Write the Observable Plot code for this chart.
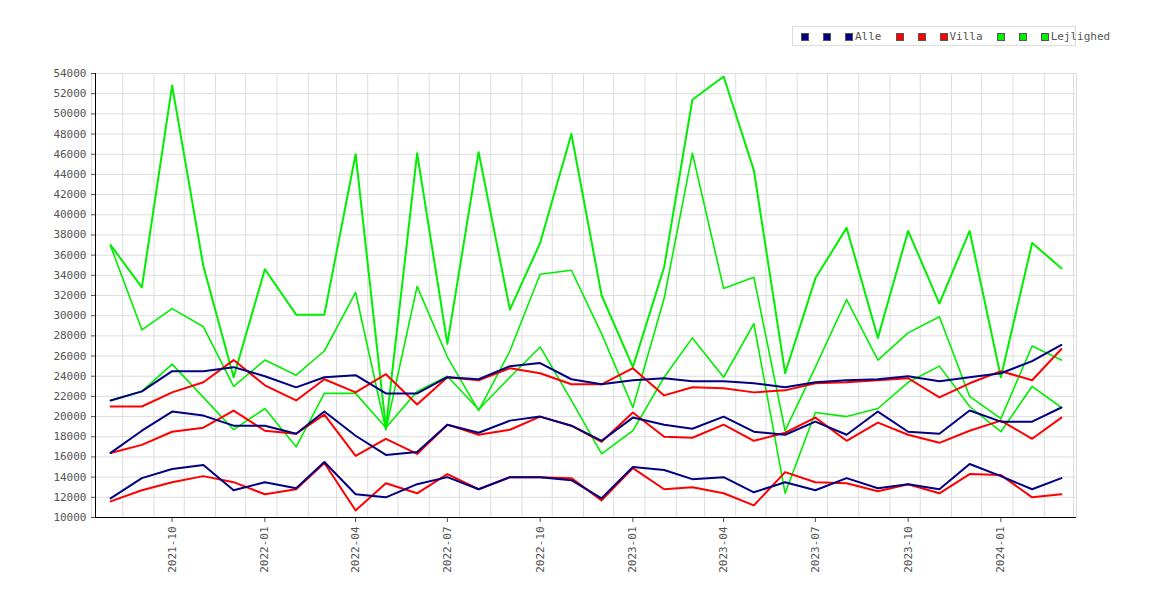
<!DOCTYPE html>
<html><head><meta charset="utf-8">
<script src="https://cdn.jsdelivr.net/npm/d3@7"></script>
<script src="https://cdn.jsdelivr.net/npm/@observablehq/plot@0.6"></script>
<style>
body{margin:0;background:#fff;font-family:"DejaVu Sans Mono",monospace;}
#wrap{position:relative;width:1170px;height:600px;}
#legend{position:absolute;left:792px;top:26px;width:284px;height:20px;border:1px solid #ddd;font-size:11px;color:#555;white-space:nowrap;line-height:20px;box-sizing:border-box;padding-left:8px;}
#legend span.sq{display:inline-block;box-sizing:border-box;width:8px;height:8px;border:1px solid #555;margin-right:14px;vertical-align:-1px;}
#legend span.lb{display:inline-block;margin-left:-12px;margin-right:14px;}
</style></head><body>
<div id="wrap"><div id="legend"></div><div id="chart"></div></div>
<script>
const months = ["2021-08","2021-09","2021-10","2021-11","2021-12","2022-01","2022-02","2022-03","2022-04","2022-05","2022-06","2022-07","2022-08","2022-09","2022-10","2022-11","2022-12","2023-01","2023-02","2023-03","2023-04","2023-05","2023-06","2023-07","2023-08","2023-09","2023-10","2023-11","2023-12","2024-01","2024-02","2024-03"];
const alleHigh = [21600,22500,24500,24500,24900,24000,22900,23900,24100,22300,22300,23900,23700,25000,25300,23700,23200,23600,23800,23500,23500,23300,22900,23400,23600,23700,24000,23500,23900,24300,25500,27100];
const alleMid  = [16400,18600,20500,20100,19100,19100,18300,20500,18100,16200,16500,19200,18400,19600,20000,19100,17600,19900,19200,18800,20000,18500,18200,19500,18200,20500,18500,18300,20600,19500,19500,20900];
const alleLow  = [11900,13900,14800,15200,12700,13500,12900,15500,12300,12000,13300,14000,12800,14000,14000,13700,11900,15000,14700,13800,14000,12500,13500,12700,13900,12900,13300,12800,15300,14100,12800,13900];
const villaHigh = [21000,21000,22400,23400,25600,23100,21600,23700,22400,24200,21200,23900,23600,24800,24300,23200,23200,24800,22100,22900,22800,22400,22600,23300,23400,23600,23800,21900,23300,24500,23600,26700];
const villaMid  = [16400,17200,18500,18900,20600,18600,18300,20200,16100,17800,16300,19200,18200,18700,20000,19100,17500,20400,18000,17900,19200,17600,18400,19900,17600,19400,18200,17400,18600,19600,17800,19900];
const villaLow  = [11600,12700,13500,14100,13500,12300,12800,15400,10700,13400,12400,14300,12800,14000,14000,13900,11700,14900,12800,13000,12400,11200,14500,13500,13400,12600,13300,12400,14300,14200,12000,12300];
const lejHigh = [37000,32800,52800,34900,23900,34600,30100,30100,46000,18900,46100,27200,46200,30600,37200,48000,32000,24900,34800,51400,53700,44400,24300,33700,38700,27800,38400,31200,38400,23900,37200,34700];
const lejMid  = [36900,28600,30700,28900,23000,25600,24100,26500,32300,18700,32900,25900,20600,26500,34100,34500,28200,20900,31700,46100,32700,33800,18600,24900,31600,25600,28300,29900,22000,19800,27000,25600];
const lejLow  = [21600,22500,25200,21900,18700,20800,17000,22300,22300,18900,22500,24000,20700,23900,26900,21600,16300,18600,23900,27800,23900,29200,12400,20400,20000,20800,23400,25000,21000,18500,23000,20900];

const series = [
  {name:"Lejlighed", color:"#00ee00", vals:[lejHigh,lejMid,lejLow]},
  {name:"Villa", color:"#ff0000", vals:[villaHigh,villaMid,villaLow]},
  {name:"Alle", color:"#000080", vals:[alleHigh,alleMid,alleLow]}
];
const parse = d3.utcParse("%Y-%m");
const rows = [];
series.forEach(s => s.vals.forEach((arr,k) => arr.forEach((v,i) => rows.push({date:parse(months[i]), value:v, key:s.name+k, color:s.color, w: s.name==="Lejlighed" && k>0 ? 1.6 : 2}))));

const grid = d3.utcMonths(new Date(Date.UTC(2021,6,1)), new Date(Date.UTC(2024,3,1))).map(d => d3.utcDay.offset(d,12));
const qticks = months.filter(m => /-(01|04|07|10)$/.test(m)).map(parse);

const plot = Plot.plot({
  width:1170, height:600,
  marginLeft:95, marginRight:94, marginTop:73, marginBottom:83,
  style:{fontFamily:"DejaVu Sans Mono, monospace", fontSize:"11px", color:"#555", background:"#fff"},
  x:{type:"utc", domain:[new Date(Date.UTC(2021,6,17)), new Date(Date.UTC(2024,2,16))], label:null},
  y:{domain:[10000,54000], label:null},
  marks:[
    Plot.ruleY(d3.range(10000,54001,2000), {stroke:"#ddd"}),
    Plot.ruleX(grid, {stroke:"#ddd"}),
    Plot.ruleX([new Date(Date.UTC(2024,2,16))], {stroke:"#ddd"}),
    Plot.line(rows, {x:"date", y:"value", z:"key", stroke:"color", strokeWidth:"w"}),
    Plot.axisX({ticks:qticks, tickFormat:d3.utcFormat("%Y-%m"), tickRotate:-90, tickSize:5, fill:"#555"}),
    Plot.axisY({ticks:d3.range(10000,54001,2000), tickFormat:d=>String(d), tickSize:4, fill:"#555"}),
    Plot.ruleX([new Date(Date.UTC(2021,6,17))], {stroke:"#000"}),
    Plot.ruleY([10000], {stroke:"#000"})
  ]
});
document.getElementById("chart").appendChild(plot);

const lg = document.getElementById("legend");
[["Alle","#000080"],["Villa","#ff0000"],["Lejlighed","#00ee00"]].forEach(([n,c]) => {
  for (let i=0;i<3;i++){ const s=document.createElement("span"); s.className="sq"; s.style.background=c; lg.appendChild(s); }
  const l=document.createElement("span"); l.className="lb"; l.textContent=n; lg.appendChild(l);
});
</script></body></html>
